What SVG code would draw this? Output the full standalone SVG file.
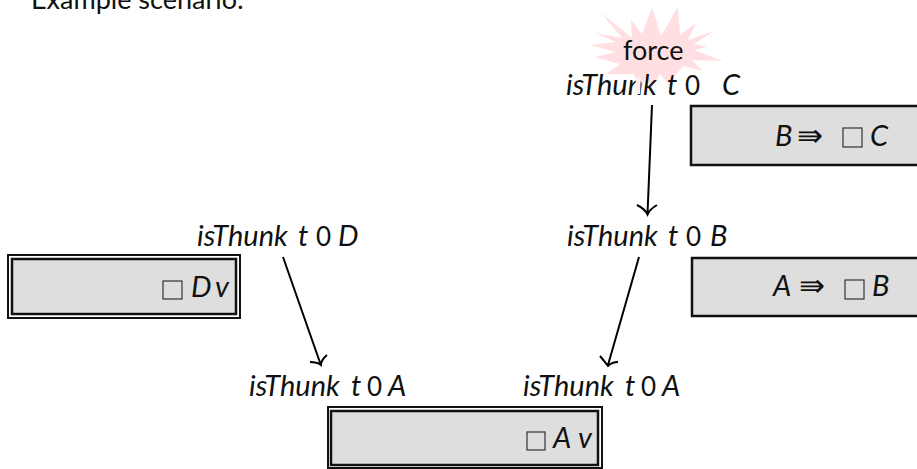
<svg xmlns="http://www.w3.org/2000/svg" width="917" height="469" viewBox="0 0 917 469">
<style>
text{font-family:"Lato","Open Sans",sans-serif;font-size:27px;fill:#111}
.i{font-style:italic;font-size:29px}
.z{font-size:26px}
.ar{font-family:"DejaVu Sans",sans-serif;font-size:31px;font-weight:200}
.box{fill:#dedede;stroke:#111;stroke-width:2.5}
.outer{fill:#fff;stroke:#111;stroke-width:2}
.sq{fill:none;stroke:#333;stroke-width:1.2}
.c{fill:none;stroke:#000;stroke-width:2}
</style>
<rect width="917" height="469" fill="#fff"/>
<text x="31" y="9">Example scenario:</text>
<g id="burst"><polygon fill="#ffdfe2" points="652,8 661,36 678,7 680,35 696,23 688,40 714,31 694,44 707,47 694,50 723,61 692,60 703,71 683,66 668,84 660,74 652,88 646,76 640,92 634,74 606,74 620,64 595,57 616,52 590,45 616,42 595,33 622,38 601,13 632,38 631,20 642,34"/></g>
<g id="force"><text x="623" y="60">force</text></g>
<g id="n-c"><text class="i" x="566" y="95">isThunk</text><text class="i" x="667" y="95">t</text><text class="z" x="685" y="95">0</text><text class="i" x="722" y="95">C</text><polygon fill="#ffeef0" points="636,77 641,77 640,94 635,94"/></g>
<g id="n-b"><text class="i" x="567" y="246">isThunk</text><text class="i" x="668" y="246">t</text><text class="z" x="686" y="246">0</text><text class="i" x="710" y="246">B</text></g>
<g id="n-d"><text class="i" x="197" y="246">isThunk</text><text class="i" x="298" y="246">t</text><text class="z" x="316" y="246">0</text><text class="i" x="338" y="246">D</text></g>
<g id="n-a1"><text class="i" x="249" y="396">isThunk</text><text class="i" x="351" y="396">t</text><text class="z" x="367" y="396">0</text><text class="i" x="388" y="396">A</text></g>
<g id="n-a2"><text class="i" x="523" y="396">isThunk</text><text class="i" x="625" y="396">t</text><text class="z" x="641" y="396">0</text><text class="i" x="662" y="396">A</text></g>
<g id="box-c"><rect class="box" x="691" y="106" width="240" height="59"/><text class="i" x="775" y="146">B</text><text class="ar" x="797" y="146">⇛</text><rect class="sq" x="843" y="128" width="19" height="19"/><text class="i" x="870" y="146">C</text></g>
<g id="box-b"><rect class="box" x="692" y="258" width="240" height="58"/><text class="i" x="773" y="296">A</text><text class="ar" x="799" y="296">⇛</text><rect class="sq" x="845" y="280" width="19" height="19"/><text class="i" x="872" y="296">B</text></g>
<g id="box-d"><rect class="outer" x="8" y="255" width="232" height="63"/><rect class="box" x="12" y="259" width="224" height="55" stroke-width="2"/><rect class="sq" x="163" y="281" width="19" height="18"/><text class="i" x="191" y="297">D</text><text class="i" x="215" y="297">v</text></g>
<g id="box-a"><rect class="outer" x="328" y="407" width="274" height="61"/><rect class="box" x="331" y="411" width="267" height="54" stroke-width="2"/><rect class="sq" x="527" y="432" width="18" height="18"/><text class="i" x="553" y="448">A</text><text class="i" x="578" y="448">v</text></g>
<g id="connectors">
<path class="c" d="M652 105L647.500 214M637 205Q645 209 647.500 214.500Q650 209 657 205"/>
<path class="c" d="M639 257L608 365M600 356Q605 362 608 366Q612 362 618 362"/>
<path class="c" d="M283 257L320.500 364M310 362Q317 362 321 365Q321 360 327 355"/>
</g>
</svg>
